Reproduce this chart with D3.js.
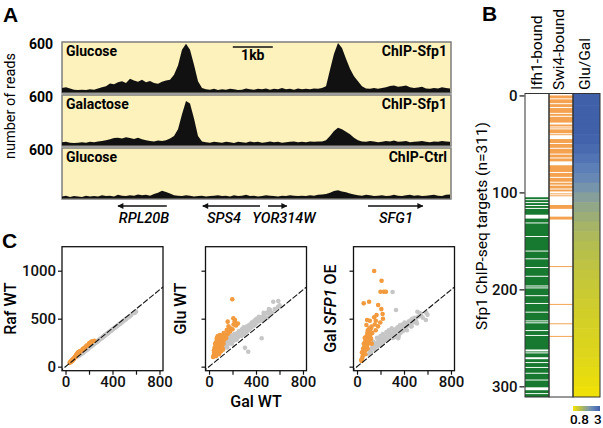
<!DOCTYPE html>
<html><head><meta charset="utf-8">
<script src="https://cdn.jsdelivr.net/npm/d3@7"></script>
<style>
body{margin:0;background:#fff;}
svg{display:block;font-family:Roboto,"DejaVu Sans",sans-serif;}
</style></head><body>
<svg id="c" width="603" height="428"></svg>
<script>
// ---------- Panel A data (reads per 0.1 kb bin) ----------
const binKb = 0.1;
const glucoseSfp1 = [60,70,55,40,35,40,35,45,40,55, 70,80,115,105,130,140,120,170,150,135,
 160,130,145,120,110,135,150,160,220,330, 520,590,520,340,140,60,45,40,50,35,
 45,40,50,45,35,40,55,45,40,50, 45,55,40,50,45,60,45,50,40,55,
 45,50,45,55,50,60,80,280,470,600, 540,410,290,200,140,80,55,50,60,50,
 60,70,85,90,75,80,90,70,60,65, 75,55,50,60,55,70,60,55];
const galactoseSfp1 = [45,50,40,35,40,45,40,50,45,55, 60,70,80,95,100,90,105,95,85,100,
 80,70,60,55,65,60,70,90,120,200, 380,540,510,330,120,55,45,40,50,45,
 40,50,45,35,50,45,40,55,45,50, 40,45,55,45,50,40,45,50,55,45,
 50,45,55,50,55,55,70,120,180,220, 200,170,140,100,70,55,50,60,55,45,
 50,60,55,65,50,55,60,45,50,55, 60,50,45,55,50,60,55,50];
const glucoseCtrl = [30,40,25,35,30,25,40,30,35,30, 45,35,40,30,50,40,35,45,40,55,
 45,50,40,60,75,100,85,65,45,40, 35,45,40,30,35,40,30,35,40,45,
 35,40,30,45,35,40,50,35,40,30, 35,45,40,35,30,40,35,45,40,35,
 40,35,45,40,50,55,60,75,95,105, 90,80,65,55,45,40,50,45,35,40,
 45,35,40,50,40,35,45,50,40,45, 35,40,45,50,40,35,50,55];
const trackConditions = ["Glucose","Galactose","Glucose"];
const trackChip = ["ChIP-Sfp1","ChIP-Sfp1","ChIP-Ctrl"];
const trackMax = 600;
const geneNames = ["RPL20B","SPS4","YOR314W","SFG1"];
const geneStart = [1.4, 3.52, 5.15, 7.65];
const geneEnd = [2.62, 4.95, 5.62, 9.02];
const geneStrand = ["-","-","+","+"];
const geneLabelAt = [2.05, 4.05, 5.55, 8.35];
const scaleBarStartKb = 4.27, scaleBarKb = 1;

// ---------- Panel B data ----------
const nTargets = 311;
const bTicks = [0,100,200,300];
const ifh1Unbound = [107,110,113,116,123,124,125,126,131,145,160,168,177,186,196,198,206,214,223,232,234,242,247,262,263,265,270,271,275,280,286,293,301,302,303,307];
const ifh1FirstBound = 105;
const swi4Bound = [0,1,2,4,5,6,7,9,10,11,13,14,15,16,17,19,20,22,23,24,25,26,27,30,31,33,35,36,37,38,40,45,46,47,48,50,51,52,53,55,56,57,58,59,61,62,63,65,66,67,72,73,74,75,76,77,78,80,81,82,83,85,86,87,88,90,91,93,94,95,97,98,101,103,113,114,115,116,125,126,127,176,215,235,248];
const gluGalBlockSize = 10;
const gluGalRatio = [3.2,3.1,3.05,3.0,2.95,2.85,2.7,2.55,2.4,2.2,2.0,1.85,1.72,1.62,1.53,1.46,1.40,1.35,1.30,1.26,1.22,1.18,1.15,1.12,1.09,1.06,1.03,1.0,0.96,0.92,0.87,0.82];
const ratioStops = [0.8,1.2,1.5,1.8,2.1,2.5,3.0];
const ratioColors = ["#f6e500","#cccb30","#b0bb55","#95a982","#7e9aa6","#5f82ba","#4060aa"];
const legendLabels = ["0.8","3"];

// ---------- Panel C data ----------
const orangeGal = [40,45,48,50,55,57,60,62,65,68,70,72,75,78,80,82,85,86,88,90,92,95,98,100,103,105,109,112,115,120,123,130,146,146,151,159,160,166,179,180,198,200,207,209,218,221,229,246,35,42,52,58,66,74,84,93,102,110,118,125];
const orangeRaf = [45,50,55,58,60,65,70,72,75,80,82,85,90,95,100,100,105,108,110,115,120,125,130,135,140,145,150,150,145,155,160,165,175,180,185,195,190,200,215,220,230,240,250,245,255,260,265,270,40,48,60,68,80,90,100,118,130,140,152,158];
const orangeGlu = [120,150,200,130,180,230,110,260,160,300,210,140,250,190,310,170,240,280,200,150,270,220,300,180,250,290,230,200,260,300,240,280,330,300,382,469,340,420,365,400,702,390,504,440,470,486,430,450,100,170,240,120,290,320,130,330,160,320,180,350];
const orangeOE = [60,90,110,140,160,660,180,200,220,250,130,270,300,230,434,320,280,486,350,190,380,240,330,260,677,400,479,310,360,290,417,350,514,997,440,380,479,538,420,642,460,781,600,896,549,500,781,781,70,150,190,240,300,170,210,260,380,330,400,240];
const grayGal = [100,110,120,130,140,150,155,160,170,175,180,190,195,200,210,215,220,230,235,240,250,255,260,270,275,280,290,295,300,303,306,310,320,325,332,334,340,345,351,360,365,370,380,385,390,400,405,413,420,430,440,448,455,460,470,480,490,498,505,514,520,537,547,560,586,590,600,150,185,225,265,285,315,355,395,425,465,510];
const grayRaf = [105,112,118,128,138,146,150,158,165,170,176,185,190,196,205,210,214,224,230,234,243,250,254,262,268,272,282,288,290,295,296,300,310,315,322,326,330,335,340,348,352,360,368,372,378,388,392,400,405,415,425,432,440,445,455,462,472,480,488,495,502,516,525,538,560,565,575,150,180,220,255,278,305,345,385,410,448,492];
const grayGlu = [160,200,180,230,210,250,200,280,240,300,260,320,240,300,270,340,290,330,280,350,310,370,330,360,320,390,350,410,370,330,196,400,360,420,380,156,430,390,440,410,460,420,470,430,480,450,500,500,470,510,480,296,520,490,540,510,560,510,570,540,590,560,677,600,620,684,640,220,250,300,340,380,400,440,480,520,560,600];
const grayOE = [130,170,150,200,260,180,220,240,300,210,260,280,230,320,250,290,340,270,310,300,360,280,330,380,300,350,320,400,340,778,300,370,330,390,590,310,360,410,296,380,430,350,400,440,370,420,460,410,450,430,470,440,480,420,500,460,510,490,470,573,520,556,530,510,486,560,540,230,280,260,330,310,350,320,400,380,420,450];
const scatterYLabels = ["Raf WT","Glu WT","Gal SFP1 OE"];
const scatterY = [[orangeRaf,grayRaf],[orangeGlu,grayGlu],[orangeOE,grayOE]];
const xTicksC = [0,200,400,600,800], xTickLabeled = [0,400,800];
const yTicksC = [0,500,1000];

// ================= drawing =================
const svg = d3.select("#c");
const FONT = "Roboto, 'DejaVu Sans', sans-serif";

// Panel letters
[["A",3,22],["B",482,21],["C",2,248]].forEach(([t,x,y])=>
  svg.append("text").attr("x",x).attr("y",y).attr("font-size",21).attr("font-weight",700).attr("font-family","Arial, 'Liberation Sans', sans-serif").text(t));

// ---- Panel A ----
const tracks = [glucoseSfp1, galactoseSfp1, glucoseCtrl];
const nb = glucoseSfp1.length;
const xA = d3.scaleLinear().domain([0,(nb-1)*binKb]).range([62,450]);
const trackTop = [42,95,148], trackH = 51;
tracks.forEach((vals,k)=>{
  const top = trackTop[k];
  const y = d3.scaleLinear().domain([0,trackMax]).range([top+trackH, top+1]).clamp(true);
  svg.append("rect").attr("x",62).attr("y",top).attr("width",389).attr("height",trackH)
    .attr("fill","#fdf2bb").attr("stroke","#7d7d7d").attr("stroke-width",1.5);
  const area = d3.area().x((d,i)=>xA(i*binKb)).y0(top+trackH-0.5).y1(d=>y(d));
  svg.append("path").datum(vals).attr("d",area).attr("fill","#111");
  svg.append("text").attr("x",53).attr("y",top+7).attr("text-anchor","end").attr("font-size",14).attr("font-weight",700).text(trackMax);
  svg.append("text").attr("x",66).attr("y",top+14).attr("font-size",14).attr("font-weight",700).text(trackConditions[k]);
  svg.append("text").attr("x",447).attr("y",top+14).attr("text-anchor","end").attr("font-size",14).attr("font-weight",700).text(trackChip[k]);
});
svg.append("text").attr("transform","translate(15,106) rotate(-90)").attr("text-anchor","middle").attr("font-size",14.5).text("number of reads");
// scale bar
svg.append("line").attr("x1",xA(scaleBarStartKb)).attr("x2",xA(scaleBarStartKb+scaleBarKb)).attr("y1",47).attr("y2",47).attr("stroke","#111").attr("stroke-width",1.5);
svg.append("text").attr("x",xA(scaleBarStartKb+scaleBarKb/2)).attr("y",60).attr("text-anchor","middle").attr("font-size",14).attr("font-weight",700).text("1kb");
// genes
const defs = svg.append("defs");
defs.append("marker").attr("id","ah").attr("viewBox","0 0 10 10").attr("refX",9).attr("refY",5)
  .attr("markerWidth",7).attr("markerHeight",6).attr("markerUnits","userSpaceOnUse").attr("orient","auto")
  .append("path").attr("d","M0,0 L10,5 L0,10 z").attr("fill","#111");
geneNames.forEach((g,i)=>{
  const a = geneStrand[i]==="+" ? geneStart[i] : geneEnd[i];
  const b = geneStrand[i]==="+" ? geneEnd[i] : geneStart[i];
  svg.append("line").attr("x1",xA(a)).attr("x2",xA(b)).attr("y1",206).attr("y2",206)
    .attr("stroke","#111").attr("stroke-width",1.5).attr("marker-end","url(#ah)");
  svg.append("text").attr("x",xA(geneLabelAt[i])).attr("y",223).attr("text-anchor","middle")
    .attr("font-size",14.5).attr("font-style","italic").attr("font-weight",500).text(g);
});

// ---- Panel B ----
const yB = d3.scaleLinear().domain([-2,nTargets]).range([93.5,397]);
const colX = [525,549,573,600];
function runs(flags){const r=[];let s=null;flags.forEach((f,i)=>{if(f&&s===null)s=i;if(!f&&s!==null){r.push([s,i]);s=null;}});if(s!==null)r.push([s,flags.length]);return r;}
const unb = new Set(ifh1Unbound);
const ifhFlags = d3.range(nTargets).map(i=> i>=ifh1FirstBound && !unb.has(i));
const swiSet = new Set(swi4Bound);
const swiFlags = d3.range(nTargets).map(i=> swiSet.has(i));
svg.append("rect").attr("x",colX[0]).attr("y",yB(-2)).attr("width",colX[3]-colX[0]).attr("height",yB(nTargets)-yB(-2)).attr("fill","#fff");
runs(ifhFlags).forEach(([a,b])=>svg.append("rect").attr("x",colX[0]).attr("width",colX[1]-colX[0])
  .attr("y",yB(a)).attr("height",yB(b)-yB(a)).attr("fill","#17792f"));
runs(swiFlags).forEach(([a,b])=>svg.append("rect").attr("x",colX[1]).attr("width",colX[2]-colX[1])
  .attr("y",yB(a)).attr("height",yB(b)-yB(a)).attr("fill","#f4a24f"));
const ratioColor = d3.scaleLinear().domain(ratioStops).range(ratioColors).clamp(true);
gluGalRatio.forEach((v,k)=>{
  const a = k===0 ? -2 : k*gluGalBlockSize;
  const b = k===gluGalRatio.length-1 ? nTargets : (k+1)*gluGalBlockSize;
  svg.append("rect").attr("x",colX[2]).attr("width",colX[3]-colX[2]).attr("y",yB(a))
    .attr("height",yB(b)-yB(a)+(k===gluGalRatio.length-1?0:0.6)).attr("fill",ratioColor(v));
});
for(let c=0;c<3;c++) svg.append("rect").attr("x",colX[c]).attr("y",yB(-2)).attr("width",colX[c+1]-colX[c]).attr("height",yB(nTargets)-yB(-2))
  .attr("fill","none").attr("stroke","#333").attr("stroke-width",1);
const axB = svg.append("g").attr("transform","translate(524.5,0)")
  .call(d3.axisLeft(yB).tickValues(bTicks).tickSize(5).tickSizeOuter(0).tickPadding(2));
axB.select(".domain").remove();
axB.selectAll("text").attr("font-size",15).attr("font-weight",500).attr("font-family",FONT).attr("fill","#111");
axB.selectAll("line").attr("stroke","#111").attr("stroke-width",1.2);
[["Ifh1-bound",542],["Swi4-bound",564],["Glu/Gal",590]].forEach(([t,x])=>
  svg.append("text").attr("transform",`translate(${x},90) rotate(-90)`).attr("font-size",15.5).text(t));
svg.append("text").attr("transform","translate(487,226) rotate(-90)").attr("text-anchor","middle").attr("font-size",15.5).text("Sfp1 ChIP-seq targets (n=311)");
// legend
const lg = defs.append("linearGradient").attr("id","lg");
ratioStops.forEach((s,i)=>lg.append("stop").attr("offset",(s-0.8)/2.2).attr("stop-color",ratioColors[i]));
svg.append("rect").attr("x",573).attr("y",406).attr("width",27).attr("height",5).attr("fill","url(#lg)");
svg.append("text").attr("x",589).attr("y",424).attr("text-anchor","end").attr("font-size",13.5).attr("font-weight",500).text(legendLabels[0]);
svg.append("text").attr("x",594).attr("y",424).attr("text-anchor","start").attr("font-size",13.5).attr("font-weight",500).text(legendLabels[1]);

// ---- Panel C ----
const cLeft = [62,205.5,353.5], cW = 101, cTop = 246.7, cH = 124;
const labelX = [16,186,336];
scatterY.forEach(([oy,gy],p)=>{
  const L = cLeft[p];
  const x = d3.scaleLinear().domain([-30,830]).range([L,L+cW]);
  const y = d3.scaleLinear().domain([-42,1250]).range([cTop+cH,cTop]);
  const cid = "clip"+p;
  defs.append("clipPath").attr("id",cid).append("rect").attr("x",L).attr("y",cTop).attr("width",cW).attr("height",cH);
  const g = svg.append("g").attr("clip-path",`url(#${cid})`);
  grayGal.forEach((v,i)=>g.append("circle").attr("cx",x(v)).attr("cy",y(gy[i])).attr("r",2.3).attr("fill","#c6c6c6"));
  orangeGal.forEach((v,i)=>g.append("circle").attr("cx",x(v)).attr("cy",y(oy[i])).attr("r",2.3).attr("fill","#f29a3d"));
  g.append("line").attr("x1",x(-60)).attr("y1",y(-60)).attr("x2",x(900)).attr("y2",y(900))
    .attr("stroke","#111").attr("stroke-width",1.1).attr("stroke-dasharray","6,1.8");
  svg.append("rect").attr("x",L).attr("y",cTop).attr("width",cW).attr("height",cH).attr("fill","none").attr("stroke","#111").attr("stroke-width",1.3);
  const ax = svg.append("g").attr("transform",`translate(0,${cTop+cH})`)
    .call(d3.axisBottom(x).tickValues(xTicksC).tickSize(4).tickSizeOuter(0).tickPadding(2).tickFormat(d=>xTickLabeled.includes(d)?d:""));
  const ay = svg.append("g").attr("transform",`translate(${L},0)`)
    .call(d3.axisLeft(y).tickValues(yTicksC).tickSize(4).tickSizeOuter(0).tickPadding(2).tickFormat(d=>p===0?d:""));
  [ax,ay].forEach(a=>{a.select(".domain").remove();
    a.selectAll("text").attr("font-size",15).attr("font-weight",500).attr("font-family",FONT).attr("fill","#111");
    a.selectAll("line").attr("stroke","#111").attr("stroke-width",1.2);});
  const t = svg.append("text").attr("transform",`translate(${labelX[p]},${cTop+cH/2}) rotate(-90)`)
    .attr("text-anchor","middle").attr("font-size",16).attr("font-weight",500);
  if(p===2){ t.append("tspan").text("Gal "); t.append("tspan").attr("font-style","italic").text("SFP1"); t.append("tspan").text(" OE"); }
  else t.text(scatterYLabels[p]);
});
svg.append("text").attr("x",cLeft[1]+cW/2).attr("y",407).attr("text-anchor","middle").attr("font-size",16).attr("font-weight",500).text("Gal WT");
</script>
</body></html>
